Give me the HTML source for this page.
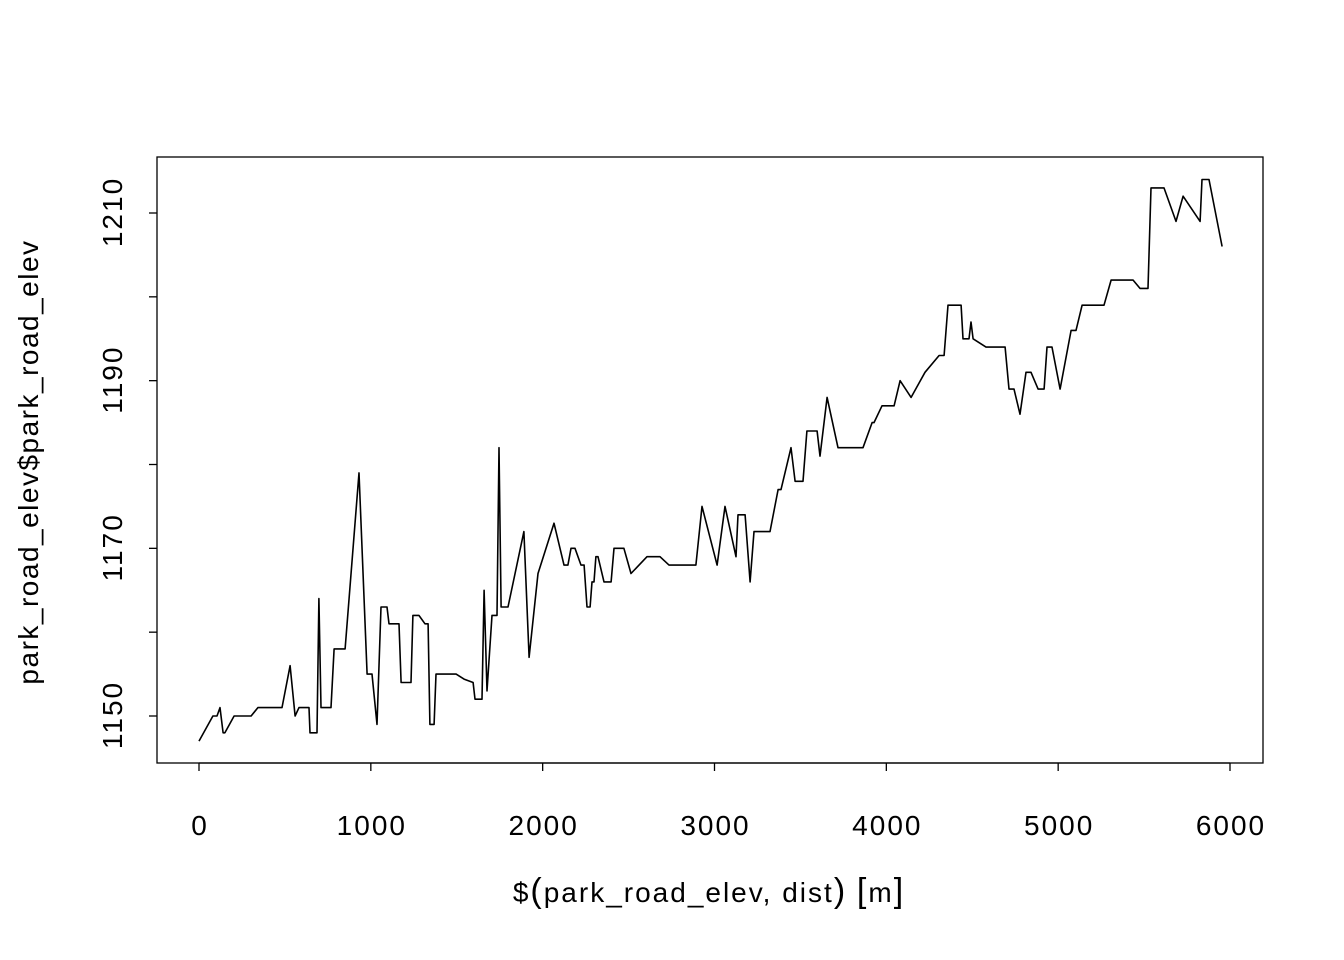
<!DOCTYPE html>
<html><head><meta charset="utf-8"><style>
body{margin:0;background:#fff}
svg{display:block;font-family:"Liberation Sans",sans-serif}
</style></head><body>
<svg id="chart" width="1344" height="960" viewBox="0 0 1344 960">
<rect x="157" y="157" width="1106" height="606" fill="none" stroke="#000" stroke-width="1.3"/>
<g id="xaxis"></g>
<g id="yaxis"></g>
<text x="709" y="902" text-anchor="middle" font-size="28" letter-spacing="2">$<tspan font-size="34">(</tspan>park_road_elev, dist<tspan font-size="34">)</tspan> <tspan font-size="34">[</tspan>m<tspan font-size="34">]</tspan></text>
<text transform="translate(38,462) rotate(-90)" text-anchor="middle" font-size="28" letter-spacing="1.5">park_road_elev$park_road_elev</text>
<path id="line" fill="none" stroke="#000" stroke-width="1.6" stroke-linejoin="round"/>
</svg>
<script>
const dist=[0,81,105,122,140,151,204,303,343,483,530,559,582,640,646,687,698,710,768,786,850,931,978,1007,1036,1059,1094,1106,1164,1176,1234,1245,1280,1315,1333,1344,1368,1379,1496,1542,1595,1606,1647,1659,1676,1705,1734,1746,1758,1798,1891,1921,1973,2066,2124,2147,2165,2188,2223,2241,2258,2276,2287,2299,2310,2322,2357,2398,2415,2473,2514,2607,2683,2735,2892,2927,3015,3061,3125,3137,3178,3207,3230,3323,3370,3387,3445,3469,3515,3538,3597,3614,3655,3719,3864,3917,3928,3975,4045,4080,4144,4225,4307,4336,4359,4435,4446,4481,4493,4505,4580,4691,4714,4743,4778,4813,4842,4883,4918,4935,4964,5011,5075,5104,5139,5267,5308,5436,5476,5523,5540,5616,5686,5727,5826,5837,5878,5954];
const elev=[1147,1150,1150,1151,1148,1148,1150,1150,1151,1151,1156,1150,1151,1151,1148,1148,1164,1151,1151,1158,1158,1179,1155,1155,1149,1163,1163,1161,1161,1154,1154,1162,1162,1161,1161,1149,1149,1155,1155,1154.4,1154,1152,1152,1165,1153,1162,1162,1182,1163,1163,1172,1157,1167,1173,1168,1168,1170,1170,1168,1168,1163,1163,1166,1166,1169,1169,1166,1166,1170,1170,1167,1169,1169,1168,1168,1175,1168,1175,1169,1174,1174,1166,1172,1172,1177,1177,1182,1178,1178,1184,1184,1181,1188,1182,1182,1185,1185,1187,1187,1190,1188,1191,1193,1193,1199,1199,1195,1195,1197,1195,1194,1194,1189,1189,1186,1191,1191,1189,1189,1194,1194,1189,1196,1196,1199,1199,1202,1202,1201,1201,1213,1213,1209,1212,1209,1214,1214,1206];
const xTicks=[0,1000,2000,3000,4000,5000,6000];
const yTicks=[1150,1160,1170,1180,1190,1200,1210];
const yLabels=[1150,1170,1190,1210];
const NS="http://www.w3.org/2000/svg";
function sx(v){return 199+(v-0)*(1230-199)/6000;}
function sy(v){return 716-(v-1150)*(716-213)/60;}
function mk(tag,attrs,parent){const e=document.createElementNS(NS,tag);for(const k in attrs)e.setAttribute(k,attrs[k]);parent.appendChild(e);return e;}
const xa=document.getElementById('xaxis'),ya=document.getElementById('yaxis');
mk('line',{x1:sx(xTicks[0]),x2:sx(xTicks[xTicks.length-1]),y1:763,y2:763,stroke:'#000','stroke-width':1.3},xa);
xTicks.forEach(t=>{
 const l=mk('line',{x1:sx(t),x2:sx(t),y1:763,y2:771,stroke:'#000','stroke-width':1.3},xa);
 
 
 const tx=mk('text',{x:sx(t)+1,y:835,'text-anchor':'middle','font-size':28,'letter-spacing':2},xa);
 tx.textContent=t;
 
 
});
yTicks.forEach(t=>{
 const l=mk('line',{x1:149,x2:157,y1:sy(t),y2:sy(t),stroke:'#000','stroke-width':1.3},ya);
 
 
});
yLabels.forEach(t=>{
 const tx=mk('text',{transform:`translate(122,${sy(t)-1}) rotate(-90)`,'text-anchor':'middle','font-size':28,'letter-spacing':2},ya);
 tx.textContent=t;
 
 
});
document.getElementById('line').setAttribute('d',dist.map((d,i)=>(i?'L':'M')+sx(d).toFixed(1)+','+sy(elev[i]).toFixed(1)).join(''));
</script>
</body></html>
